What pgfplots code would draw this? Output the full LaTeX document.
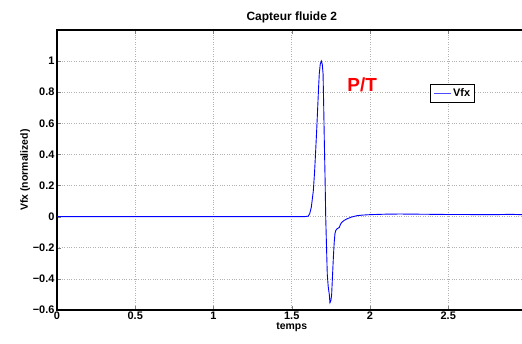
\documentclass[border=0pt]{standalone}
\usepackage{fontspec}
\setmainfont{Liberation Sans}
\usepackage{pgfplots}
\pgfplotsset{compat=1.18}
\usetikzlibrary{calc}
\begin{document}
\begin{tikzpicture}
\begin{axis}[
  scale only axis,
  width=469.5bp, height=280bp,
  xmin=0, xmax=3, ymin=-0.6, ymax=1.2,
  xtick={0,0.5,1,1.5,2,2.5},
  xticklabels={\textbf{0},\textbf{0.5},\textbf{1},\textbf{1.5},\textbf{2},\textbf{2.5}},
  ytick={-0.6,-0.4,-0.2,0,0.2,0.4,0.6,0.8,1},
  yticklabels={\textbf{−0.6},\textbf{−0.4},\textbf{−0.2},\textbf{0},\textbf{0.2},\textbf{0.4},\textbf{0.6},\textbf{0.8},\textbf{1}},
  tick label style={font=\fontsize{11}{12}\selectfont},
  xticklabel style={yshift=2bp},
  yticklabel style={xshift=1bp},
  tick align=inside,
  major tick length=4bp,
  axis line style={black, line width=1.1pt},
  grid=major,
  major grid style={dotted, gray!60, line width=0.6pt},
  title={\textbf{Capteur fluide 2}},
  title style={font=\fontsize{12}{14}\selectfont, yshift=-2bp},
  xlabel={\textbf{temps}},
  ylabel={\textbf{Vfx (normalized)}},
  label style={font=\fontsize{10.5}{12}\selectfont},
  xlabel style={yshift=3bp},
  ylabel style={yshift=-4bp},
  legend style={at={(rel axis cs:0.795,0.807)}, anchor=north west, draw=black, line width=0.8pt, font=\fontsize{11}{12}\selectfont, inner sep=2.5pt},
  legend cell align=left,
  clip=true,
]
\addplot[color=blue, line width=0.9pt,
  legend image code/.code={\draw[color=blue!70, line width=1pt] (0cm,0cm) -- (0.6cm,0cm);}] coordinates {
(0,0) (0.5,0) (1,0) (1.5,0) (1.58,0) (1.605,0.003) (1.615,0.02) (1.625,0.06)
(1.638,0.168) (1.646,0.29) (1.653,0.426) (1.660,0.57) (1.666,0.705) (1.671,0.82)
(1.676,0.92) (1.682,0.98) (1.689,1.0) (1.695,0.98) (1.700,0.92) (1.704,0.72)
(1.708,0.49) (1.713,0.24) (1.717,0) (1.722,-0.19) (1.727,-0.37) (1.733,-0.45)
(1.740,-0.5) (1.744,-0.553) (1.750,-0.54) (1.755,-0.5) (1.760,-0.39) (1.766,-0.26)
(1.771,-0.17) (1.776,-0.11) (1.781,-0.09) (1.787,-0.08) (1.795,-0.075) (1.804,-0.069)
(1.811,-0.05) (1.819,-0.037) (1.835,-0.024) (1.851,-0.015) (1.88,-0.003) (1.915,0.006)
(1.95,0.010) (2.0,0.013) (2.1,0.016) (2.19,0.017) (2.3,0.016) (2.4,0.015) (2.5,0.014)
(2.6,0.014) (2.7,0.013) (2.8,0.013) (2.9,0.015) (3.0,0.012)
};
\addlegendentry{\textbf{Vfx}}
\node[text=red, font=\fontsize{19}{21}\selectfont\bfseries, anchor=center] at (axis cs:1.95,0.85) {P/T};
\end{axis}
\pgfresetboundingbox
\path[use as bounding box] ($(current axis.south west)+(-57bp,-34bp)$) rectangle ($(current axis.north west)+(465bp,30bp)$);
\end{tikzpicture}
\end{document}
